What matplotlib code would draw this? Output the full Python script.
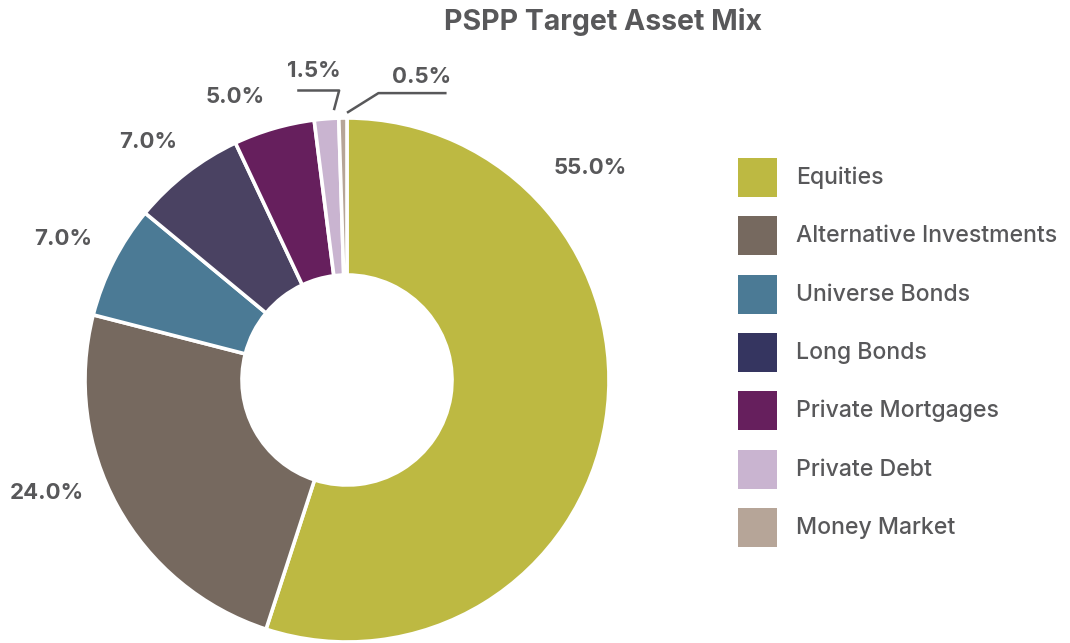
import matplotlib.pyplot as plt
from matplotlib.patches import Rectangle

plt.rcParams['font.family'] = ['Inter', 'DejaVu Sans']

categories = ["Equities", "Alternative Investments", "Universe Bonds", "Long Bonds",
              "Private Mortgages", "Private Debt", "Money Market"]
values = [55.0, 24.0, 7.0, 7.0, 5.0, 1.5, 0.5]
wedge_colors = ["#bdb942", "#76695f", "#4b7a95", "#4a4262", "#661f5d", "#c9b4d0", "#b6a598"]
legend_colors = ["#bdb942", "#76695f", "#4b7a95", "#353560", "#661f5d", "#c9b4d0", "#b6a598"]

# label positions (pie radius = 1)
label_pos = [(0.93, 0.81), (-1.145, -0.43), (-1.085, 0.54), (-0.76, 0.91),
             (-0.425, 1.08), (-0.125, 1.18), (0.285, 1.155)]

text_color = "#58585a"
W, H = 1070, 643
cx, cy, R = 347, 380, 262  # pie centre / radius in pixels


def to_data(px, py):
    return (px - cx) / R, (cy - py) / R


fig = plt.figure(figsize=(W / 100, H / 100), dpi=100)
ax = fig.add_axes([0, 0, 1, 1])

ax.pie(values, colors=wedge_colors, startangle=90, counterclock=False,
       radius=1.0, wedgeprops=dict(width=1 - 105 / R, edgecolor="white", linewidth=2.6))

ax.set_xlim(-cx / R, (W - cx) / R)
ax.set_ylim(-(H - cy) / R, cy / R)
ax.set_aspect('auto')
ax.axis('off')

for v, (x, y) in zip(values, label_pos):
    ax.text(x, y, f"{v:.1f}%", ha='center', va='center', fontsize=16,
            fontweight='bold', color=text_color)

# leader lines for the two small slices
ax.plot([-0.19, -0.03, -0.05], [1.105, 1.105, 1.03], color=text_color, lw=1.8,
        solid_capstyle='butt')
ax.plot([0.0, 0.12, 0.38], [1.02, 1.095, 1.095], color=text_color, lw=1.8,
        solid_capstyle='butt')

fig.text(603 / W, 1 - 22 / H, "PSPP Target Asset Mix", ha='center', va='center',
         fontsize=20.5, fontweight='bold', color=text_color)

# legend
sq = 39 / R
for i, (name, c) in enumerate(zip(categories, legend_colors)):
    top = 158 + i * 58.3
    x0, y0 = to_data(738, top + 39)
    ax.add_patch(Rectangle((x0, y0), sq, sq, facecolor=c, edgecolor='none'))
    tx, ty = to_data(796, top + 20)
    ax.text(tx, ty, name, ha='left', va='center', fontsize=16.6, fontweight='medium',
            color=text_color)

fig.savefig("out.png", dpi=100)
